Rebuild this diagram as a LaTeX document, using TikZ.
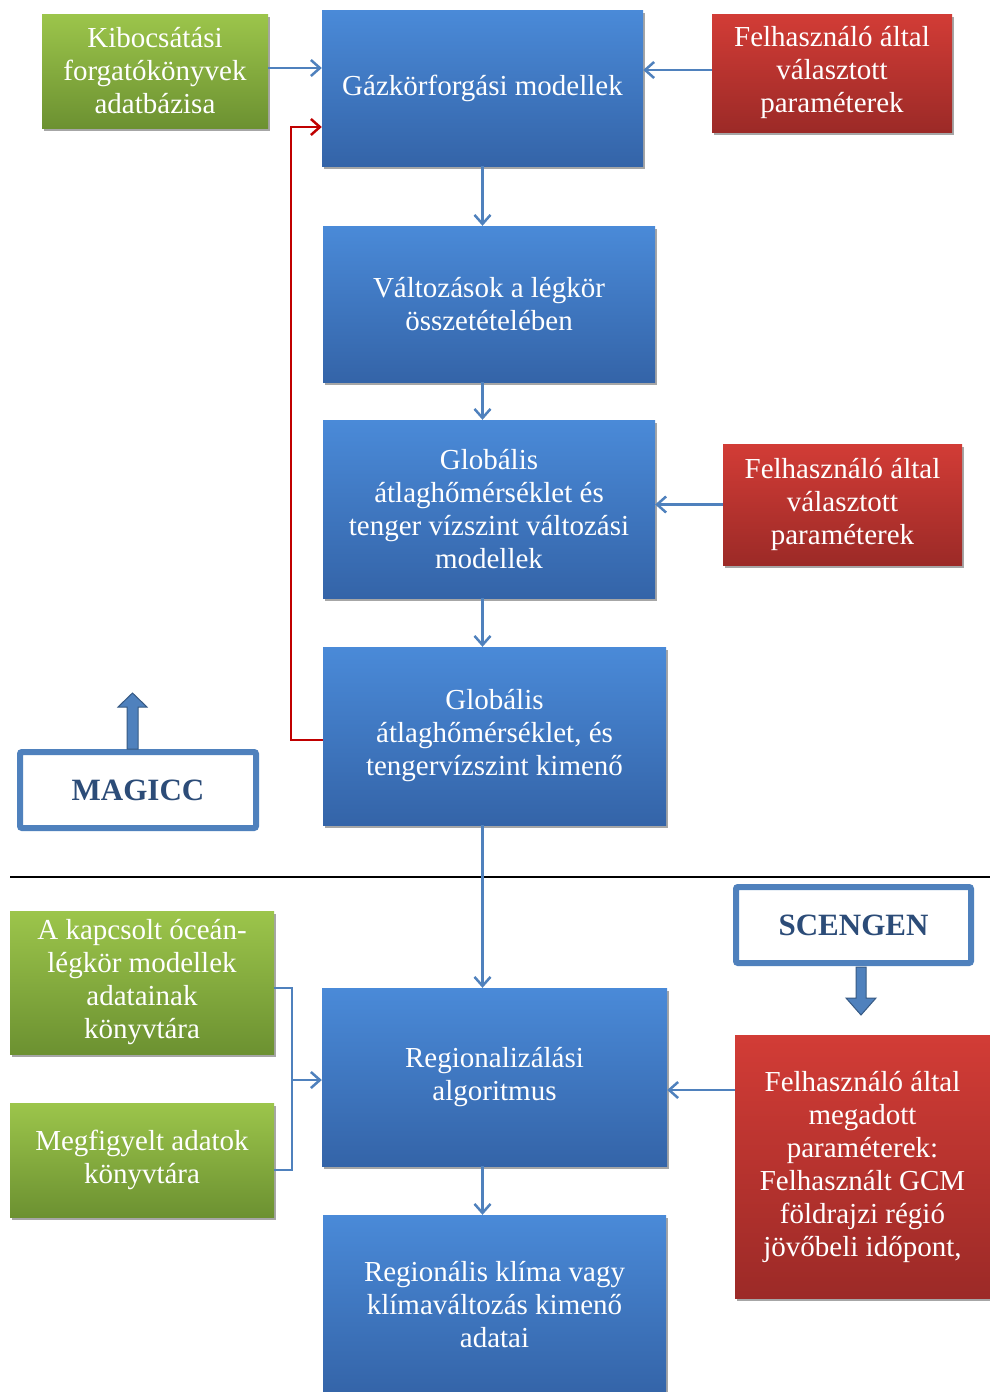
\documentclass[tikz,border=0pt]{standalone}
\usepackage{fontspec}
\setmainfont{Liberation Serif}
\usetikzlibrary{arrows.meta,shadows}
\definecolor{bluetop}{HTML}{4A8AD8}
\definecolor{bluebot}{HTML}{3464A8}
\definecolor{greentop}{HTML}{9CC54B}
\definecolor{greenbot}{HTML}{6C9131}
\definecolor{redtop}{HTML}{D23C36}
\definecolor{redbot}{HTML}{9C2A27}
\definecolor{lineblue}{HTML}{4F81BD}
\definecolor{darkblue}{HTML}{2C4C78}
\definecolor{fbred}{HTML}{C00000}
\tikzset{
  box/.style={rectangle, align=center, text=white, inner sep=4pt,
    font=\fontsize{29}{33}\selectfont,
    drop shadow={shadow xshift=2pt, shadow yshift=-3pt, opacity=0.35, fill=black}},
  bluebox/.style={box, top color=bluetop, bottom color=bluebot},
  greenbox/.style={box, top color=greentop, bottom color=greenbot},
  redbox/.style={box, top color=redtop, bottom color=redbot},
  labelbox/.style={rectangle, draw=lineblue, line width=6pt, rounded corners=2pt, fill=white,
    text=darkblue, font=\fontsize{31}{36}\selectfont\bfseries},
  conn/.style={draw=lineblue, line width=2.5pt, -{Straight Barb[length=9pt,width=16pt,line width=2.5pt]}},
  fbconn/.style={draw=fbred, line width=2.5pt, -{Straight Barb[length=9pt,width=16pt,line width=2.5pt]}},
  plain/.style={draw=lineblue, line width=2.5pt},
  blockarrow/.style={fill=lineblue, draw=lineblue!70!black, line width=1pt}
}
\begin{document}
\begin{tikzpicture}[x=1pt,y=-1pt]
\useasboundingbox (0,0) rectangle (990,1392);
\fill[white] (0,0) rectangle (990,1392);

% boxes
\node[greenbox, minimum width=226pt, minimum height=114pt] (g1) at (155,71) {Kibocsátási\\forgatókönyvek\\adatbázisa};
\node[bluebox, minimum width=321pt, minimum height=156pt] (b1) at (482.5,88) {Gázkörforgási modellek};
\node[redbox, minimum width=240pt, minimum height=118pt] (r1) at (832,73) {Felhasználó által\\választott\\paraméterek};
\node[bluebox, minimum width=332pt, minimum height=156pt] (b2) at (489,304) {Változások a légkör\\összetételében};
\node[bluebox, minimum width=332pt, minimum height=178pt] (b3) at (489,509) {Globális\\átlaghőmérséklet és\\tenger vízszint változási\\modellek};
\node[redbox, minimum width=239pt, minimum height=121pt] (r2) at (842.5,504.5) {Felhasználó által\\választott\\paraméterek};
\node[bluebox, minimum width=343pt, minimum height=178pt] (b4) at (494.5,736) {Globális\\átlaghőmérséklet, és\\tengervízszint kimenő};
\node[labelbox, minimum width=236pt, minimum height=76pt] (magicc) at (138,790) {MAGICC};
\node[labelbox, minimum width=235pt, minimum height=76pt] (scengen) at (853.5,925) {SCENGEN};
\node[greenbox, minimum width=264pt, minimum height=143pt] (g2) at (142,982.5) {A kapcsolt óceán-\\légkör modellek\\adatainak\\könyvtára};
\node[greenbox, minimum width=264pt, minimum height=114pt] (g3) at (142,1160) {Megfigyelt adatok\\könyvtára};
\node[bluebox, minimum width=345pt, minimum height=178pt] (b5) at (494.5,1077) {Regionalizálási\\algoritmus};
\node[redbox, minimum width=255pt, minimum height=263pt] (r3) at (862.5,1166.5) {Felhasználó által\\megadott\\paraméterek:\\Felhasznált GCM\\földrajzi régió\\jövőbeli időpont,};
\node[bluebox, minimum width=343pt, minimum height=180pt] (b6) at (494.5,1305) {Regionális klíma vagy\\klímaváltozás kimenő\\adatai};

% separator line
\draw[black, line width=1.5pt] (10,877) -- (990,877);

% connectors
\draw[conn] (g1.east|-0,68) -- (b1.west|-0,68);
\draw[conn] (r1.west|-0,70) -- (b1.east|-0,70);
\draw[conn] (b1.south) -- (b2.north-|b1.south);
\draw[conn] (b2.south-|b1.south) -- (b3.north-|b1.south);
\draw[conn] (r2.west) -- (b3.east|-r2.west);
\draw[conn] (b3.south-|b1.south) -- (b4.north-|b1.south);
\draw[conn] (b4.south-|b1.south) -- (b5.north-|b1.south);
\draw[conn] (r3.west|-0,1090) -- (b5.east|-0,1090);
\draw[conn] (b5.south-|b1.south) -- (b6.north-|b1.south);

% feedback
\coordinate (fb) at (291,127);
\draw[fbconn] (b4.west|-0,740) -| (fb) -- (b1.west|-fb);

% bracket
\coordinate (brtop) at (292,988);
\coordinate (brbot) at (292,1170);
\coordinate (brmid) at (292,1080);
\draw[plain] (g2.east|-brtop) -- (brtop) -- (brbot) -- (g3.east|-brbot);
\draw[conn] (brmid) -- (b5.west|-brmid);

% block arrows
\draw[blockarrow] (127,749) -- (127,707) -- (118,707) -- (132.5,693) -- (147,707) -- (138,707) -- (138,749) -- cycle;
\draw[blockarrow] (856,967) -- (856,998) -- (846,998) -- (861,1015) -- (876,998) -- (866,998) -- (866,967) -- cycle;
\end{tikzpicture}
\end{document}
